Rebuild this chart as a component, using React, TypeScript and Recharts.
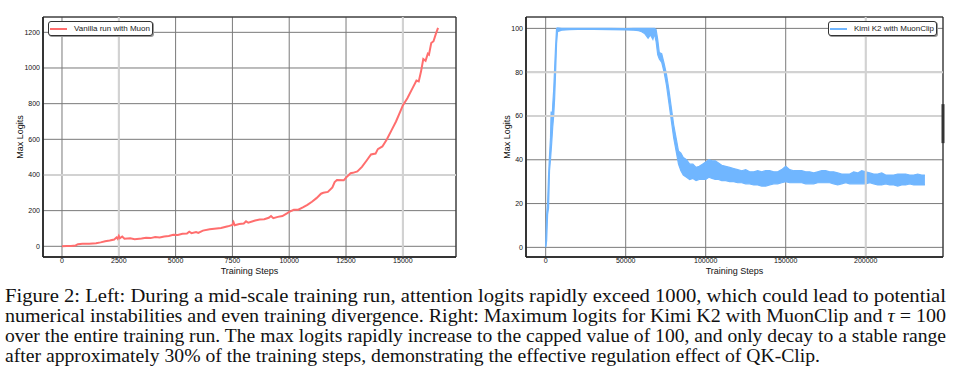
import React from 'react';
import {
  ComposedChart,
  Line,
  Area,
  XAxis,
  YAxis,
  CartesianGrid,
  ReferenceLine,
  ReferenceArea,
  Legend,
} from 'recharts';

// ---------- Left chart data (Vanilla run with Muon) ----------
const leftSteps = [
  0, 200, 400, 600, 700, 900, 1200, 1500, 1700, 1900, 2100, 2300, 2400, 2450, 2500, 2550, 2650, 2750,
  3000, 3200, 3500, 3700, 3900, 4100, 4300, 4500, 4700, 4900, 5100, 5300, 5500, 5600, 5700, 5900,
  6000, 6200, 6500, 6800, 7000, 7300, 7500, 7550, 7600, 7800, 8000, 8100, 8200, 8500, 8700, 8900,
  9100, 9200, 9300, 9500, 9700, 9900, 10000, 10200, 10400, 10600, 10800, 11000, 11200, 11400, 11500,
  11700, 11900, 12000, 12100, 12400, 12500, 12700, 12800, 13000, 13200, 13400, 13600, 13800, 13900,
  14100, 14300, 14500, 14700, 14900, 15000, 15200, 15400, 15600, 15700, 15800, 15900, 16000, 16100,
  16150, 16250, 16350, 16450, 16550,
];
const leftLogits = [
  0, 1, 2, 5, 12, 14, 15, 17, 22, 28, 32, 38, 50, 42, 58, 45, 55, 42,
  45, 40, 44, 48, 46, 52, 50, 55, 58, 65, 63, 70, 72, 82, 74, 80,
  75, 88, 95, 100, 103, 112, 120, 135, 118, 125, 128, 140, 132, 145, 150, 152,
  160, 170, 158, 165, 170, 185, 193, 205, 205, 218, 232, 250, 270, 295, 300,
  305, 330, 360, 372, 370, 385, 410, 412, 420, 445, 480, 515, 520, 545,
  560, 600, 650, 700, 760, 790, 830, 880, 930, 925, 980, 1050, 1040, 1080,
  1075, 1140, 1150, 1190, 1225,
];
const leftXTicks = [0, 2500, 5000, 7500, 10000, 12500, 15000];
const leftYTicks = [0, 200, 400, 600, 800, 1000, 1200];
const leftXDomain = [-836, 17340];
const leftYDomain = [-60, 1286];

// ---------- Right chart data (Kimi K2 with MuonClip) ----------
const rightSteps = [
  0, 600, 1200, 1800, 2400, 3000, 3400, 3800, 4400, 5000, 5600, 6200, 6800, 7400, 10000, 15000, 20000,
  30000, 40000, 50000, 55000, 58000, 60000, 62000, 64000, 65500, 67000, 68000, 69000, 70000, 71000,
  72500, 74000, 75500, 77000, 78500, 80000, 81500, 83000, 84500, 86000, 88000, 90000, 92000, 94000,
  96000, 98000, 100000, 102000, 104000, 106000, 108000, 110000, 112500, 115000, 117500, 120000,
  122500, 125000, 127500, 130000, 132500, 135000, 137500, 140000, 142500, 145000, 147500, 150000,
  152500, 155000, 157500, 160000, 162500, 165000, 167500, 170000, 172500, 175000, 177500, 180000,
  182500, 185000, 187500, 190000, 192500, 195000, 197500, 200000, 202500, 205000, 207500, 210000,
  212500, 215000, 217500, 220000, 222500, 225000, 227500, 230000, 232500, 235000, 237000,
];
const rightLow = [
  0, 3, 15, 18, 35, 40, 44, 48, 55, 60, 68, 80, 93, 98.5, 99.2, 99.4, 99.5,
  99.5, 99.4, 99.3, 99.2, 99, 98.5, 97.5, 95.5, 97, 95, 97.5, 94, 88, 86,
  84.5, 80, 74, 66, 58, 50, 44, 38, 35, 33, 32, 31, 31.5, 30.5,
  31, 31, 31, 32, 31.5, 31, 31, 30.5, 30.5, 30, 30, 29.5,
  29.5, 29, 29, 28.5, 28.5, 28, 28, 28.5, 29, 29, 29.5, 30,
  29.5, 29.5, 29.5, 29.5, 29, 29, 29, 29.5, 29.5, 29.5, 29.5, 29,
  28.5, 29, 29.5, 29, 29, 29, 29, 29, 29.5, 29, 28.5, 28.5,
  29, 28.5, 28.5, 28, 28.5, 28.5, 29, 28.5, 28.5, 28.5, 28.5,
];
const rightHigh = [
  0.5, 15, 20, 33, 42, 50, 62, 56, 65, 72, 82, 92, 100, 100.2, 100, 100, 100,
  100, 100, 99.9, 100, 100, 100, 100, 100, 100, 100, 100, 99.5, 95, 89,
  88.5, 84, 79, 72, 64, 56, 50, 44, 43, 41, 40, 38, 38, 36.5,
  37, 38, 39, 40, 39.5, 39.5, 38.5, 37.5, 37, 36.5, 36, 35.5,
  35, 35.5, 34.5, 34.5, 35, 34.5, 35, 35, 34.5, 34.5, 35.5, 37,
  35.5, 35, 35, 35, 34.5, 34.5, 34, 34.5, 35, 35, 34.5, 34.5,
  34, 33.5, 33.5, 33.5, 34.5, 34, 35, 34.5, 34, 33.5, 33.5, 34,
  33, 33, 33, 33.5, 33.5, 33.5, 33, 33, 33.5, 33, 33,
];
const rightXTicks = [0, 50000, 100000, 150000, 200000];
const rightYTicks = [0, 20, 40, 60, 80, 100];
const rightXDomain = [-12300, 248300];
const rightYDomain = [-4.4, 105.2];

// ---------- Caption ----------
const captionLines = [
  'Figure 2: Left: During a mid-scale training run, attention logits rapidly exceed 1000, which could lead to potential',
  'numerical instabilities and even training divergence. Right: Maximum logits for Kimi K2 with MuonClip and ',
  'over the entire training run. The max logits rapidly increase to the capped value of 100, and only decay to a stable range',
  'after approximately 30% of the training steps, demonstrating the effective regulation effect of QK-Clip.',
];

const leftData = leftSteps.map((s, i) => ({ step: s, logit: leftLogits[i] }));
const rightData = rightSteps.map((s, i) => ({ step: s, band: [rightLow[i], rightHigh[i]] }));

const RED = '#ff6e6e';
const BLUE = '#70b6ff';
const GRID = '#7a7a7a';
const LIGHT = '#d2d2d2';
const SANS = 'Liberation Sans, Arial, sans-serif';
const SERIF = 'Liberation Serif, Times New Roman, Times, serif';

const tickStyle = { fontSize: 7, fill: '#111', fontFamily: SANS };
const axisLabelStyle = { fontSize: 9, fill: '#111', fontFamily: SANS };

const LegendBox = ({ color, text }: { color: string; text: string }) => (
  <div
    style={{
      background: '#fff',
      border: '1px solid #333',
      borderRadius: 3,
      boxShadow: '1px 1px 0 #999',
      height: 13,
      display: 'flex',
      alignItems: 'center',
      padding: '0 2px 0 1px',
      fontFamily: SANS,
      fontSize: 8,
      color: '#222',
      whiteSpace: 'nowrap',
      lineHeight: '13px',
    }}
  >
    <svg width={18} height={6} style={{ marginRight: 6 }}>
      <line x1={0} y1={3} x2={17} y2={3} stroke={color} strokeWidth={2} />
    </svg>
    {text}
  </div>
);

const capStyle = { fontFamily: SERIF, fontSize: 19, fill: '#111' };

export default function App() {
  return (
    <div style={{ position: 'absolute', left: 0, top: 0, width: 959, height: 389, background: '#fff' }}>
      <div style={{ position: 'absolute', left: 0, top: 0 }}>
        <ComposedChart
          width={480}
          height={290}
          data={leftData}
          margin={{ top: 17, right: 24, bottom: 3, left: 13 }}
        >
          <CartesianGrid stroke={GRID} strokeWidth={1} />
          <ReferenceLine x={2500} stroke={LIGHT} strokeWidth={2} />
          <ReferenceLine x={15000} stroke={LIGHT} strokeWidth={2} />
          <ReferenceLine y={400} stroke={LIGHT} strokeWidth={2} />
          <XAxis
            dataKey="step"
            type="number"
            domain={leftXDomain}
            ticks={leftXTicks}
            allowDataOverflow
            height={30}
            tickLine={false}
            tickSize={1}
            tickMargin={0}
            axisLine={{ stroke: '#222', strokeWidth: 1.5 }}
            tick={tickStyle}
            label={{ value: 'Training Steps', position: 'insideBottom', offset: 13, style: axisLabelStyle }}
          />
          <YAxis
            type="number"
            domain={leftYDomain}
            ticks={leftYTicks}
            allowDataOverflow
            width={30}
            tickLine={false}
            tickSize={1}
            tickMargin={2}
            axisLine={{ stroke: '#222', strokeWidth: 1.5 }}
            tick={tickStyle}
            label={{
              value: 'Max Logits',
              angle: -90,
              position: 'insideLeft',
              offset: 7,
              style: { ...axisLabelStyle, textAnchor: 'middle' },
            }}
          />
          <ReferenceArea
            x1={leftXDomain[0]}
            x2={leftXDomain[1]}
            y1={leftYDomain[0]}
            y2={leftYDomain[1]}
            fill="none"
            fillOpacity={0}
            stroke="#222"
            strokeWidth={1}
          />
          <Line
            dataKey="logit"
            stroke={RED}
            strokeWidth={2}
            dot={false}
            isAnimationActive={false}
            name="Vanilla run with Muon"
          />
          <Legend
            layout="horizontal"
            verticalAlign="middle"
            align="center"
            wrapperStyle={{ position: 'absolute', left: 48, top: 21, width: 'auto' }}
            content={() => <LegendBox color={RED} text="Vanilla run with Muon" />}
          />
        </ComposedChart>
      </div>

      <div style={{ position: 'absolute', left: 480, top: 0 }}>
        <ComposedChart
          width={479}
          height={290}
          data={rightData}
          margin={{ top: 17, right: 16, bottom: 3, left: 16 }}
        >
          <CartesianGrid stroke={GRID} strokeWidth={1} />
          <ReferenceLine x={200000} stroke={LIGHT} strokeWidth={2} />
          <ReferenceLine y={80} stroke={LIGHT} strokeWidth={2} />
          <ReferenceLine y={60} stroke={LIGHT} strokeWidth={2} />
          <XAxis
            dataKey="step"
            type="number"
            domain={rightXDomain}
            ticks={rightXTicks}
            allowDataOverflow
            height={30}
            tickLine={false}
            tickSize={1}
            tickMargin={0}
            axisLine={{ stroke: '#222', strokeWidth: 1.5 }}
            tick={tickStyle}
            label={{ value: 'Training Steps', position: 'insideBottom', offset: 13, style: axisLabelStyle }}
          />
          <YAxis
            type="number"
            domain={rightYDomain}
            ticks={rightYTicks}
            allowDataOverflow
            width={30}
            tickLine={false}
            tickSize={1}
            tickMargin={2}
            axisLine={{ stroke: '#222', strokeWidth: 1.5 }}
            tick={tickStyle}
            label={{
              value: 'Max Logits',
              angle: -90,
              position: 'insideLeft',
              offset: 11,
              style: { ...axisLabelStyle, textAnchor: 'middle' },
            }}
          />
          <ReferenceArea
            x1={rightXDomain[0]}
            x2={rightXDomain[1]}
            y1={rightYDomain[0]}
            y2={rightYDomain[1]}
            fill="none"
            fillOpacity={0}
            stroke="#222"
            strokeWidth={1}
          />
          <ReferenceLine
            segment={[
              { x: rightXDomain[1], y: 65.4 },
              { x: rightXDomain[1], y: 47.6 },
            ]}
            stroke="#333"
            strokeWidth={3}
          />
          <Area
            dataKey="band"
            stroke={BLUE}
            strokeWidth={1.2}
            fill={BLUE}
            fillOpacity={1}
            dot={false}
            isAnimationActive={false}
            name="Kimi K2 with MuonClip"
          />
          <Legend
            layout="horizontal"
            verticalAlign="middle"
            align="center"
            wrapperStyle={{ position: 'absolute', left: 348, top: 21, width: 'auto' }}
            content={() => <LegendBox color={BLUE} text="Kimi K2 with MuonClip" />}
          />
        </ComposedChart>
      </div>

      <svg width={959} height={100} style={{ position: 'absolute', left: 0, top: 285 }}>
        <text x={5} y={17} textLength={941} lengthAdjust="spacingAndGlyphs" style={capStyle}>
          {captionLines[0]}
        </text>
        <text x={5} y={37} textLength={941} lengthAdjust="spacingAndGlyphs" style={capStyle}>
          {captionLines[1]}
          <tspan fontStyle="italic">τ</tspan>
          {' = 100'}
        </text>
        <text x={5} y={57} textLength={941} lengthAdjust="spacingAndGlyphs" style={capStyle}>
          {captionLines[2]}
        </text>
        <text x={5} y={77} textLength={815} lengthAdjust="spacingAndGlyphs" style={capStyle}>
          {captionLines[3]}
        </text>
      </svg>
    </div>
  );
}
